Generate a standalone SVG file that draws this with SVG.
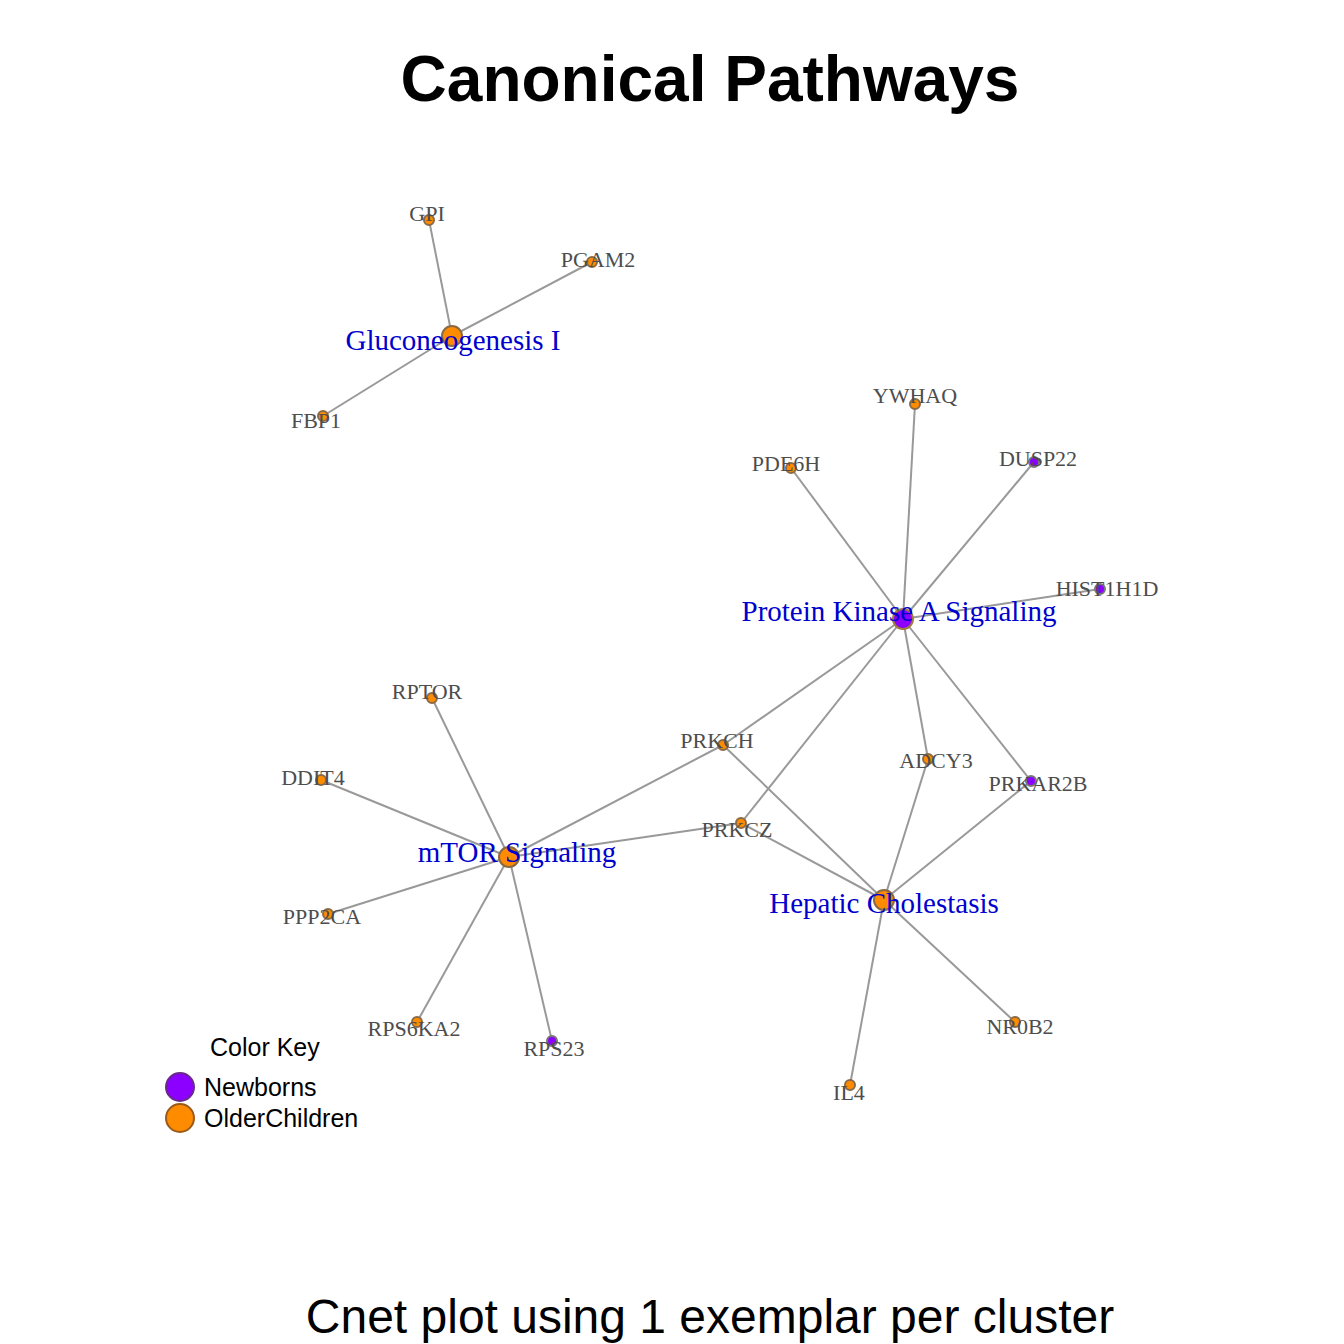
<svg xmlns="http://www.w3.org/2000/svg" width="1344" height="1344" viewBox="0 0 1344 1344">
<style>
.e{stroke:#999;stroke-width:2;fill:none}
.o{fill:#FF8C00;stroke:#8a6a45;stroke-width:2}
.p{fill:#8B00FF;stroke:#777;stroke-width:2}
.g{font-family:"Liberation Serif",serif;font-size:22px;fill:#4d4d4d;text-anchor:middle}
.pw{font-family:"Liberation Serif",serif;font-size:29px;fill:#0000CD;text-anchor:middle}
.t{font-family:"Liberation Sans",Arial,sans-serif;fill:#000}
</style>
<rect width="1344" height="1344" fill="#fff"/>
<text class="t" x="710" y="101" font-size="64" font-weight="bold" text-anchor="middle">Canonical Pathways</text>
<g id="edges">
<line class="e" x1="452" y1="336" x2="429" y2="220"/>
<line class="e" x1="452" y1="336" x2="592" y2="262"/>
<line class="e" x1="452" y1="336" x2="323" y2="416"/>
<line class="e" x1="903" y1="619" x2="915" y2="404"/>
<line class="e" x1="903" y1="619" x2="791" y2="468"/>
<line class="e" x1="903" y1="619" x2="1034" y2="462"/>
<line class="e" x1="903" y1="619" x2="1100" y2="589"/>
<line class="e" x1="903" y1="619" x2="723" y2="745"/>
<line class="e" x1="903" y1="619" x2="741" y2="823"/>
<line class="e" x1="903" y1="619" x2="928" y2="759"/>
<line class="e" x1="903" y1="619" x2="1031" y2="781"/>
<line class="e" x1="509" y1="857" x2="432" y2="698"/>
<line class="e" x1="509" y1="857" x2="321" y2="780"/>
<line class="e" x1="509" y1="857" x2="328" y2="914"/>
<line class="e" x1="509" y1="857" x2="417" y2="1022"/>
<line class="e" x1="509" y1="857" x2="552" y2="1041"/>
<line class="e" x1="509" y1="857" x2="723" y2="745"/>
<line class="e" x1="509" y1="857" x2="741" y2="823"/>
<line class="e" x1="884" y1="900" x2="723" y2="745"/>
<line class="e" x1="884" y1="900" x2="741" y2="823"/>
<line class="e" x1="884" y1="900" x2="928" y2="759"/>
<line class="e" x1="884" y1="900" x2="1031" y2="781"/>
<line class="e" x1="884" y1="900" x2="1015" y2="1022"/>
<line class="e" x1="884" y1="900" x2="850" y2="1085"/>
</g>
<g id="n-GPI"><circle class="o" cx="429" cy="220" r="5"/><text class="g" x="427" y="221">GPI</text></g>
<g id="n-PGAM2"><circle class="o" cx="592" cy="262" r="5"/><text class="g" x="598" y="267">PGAM2</text></g>
<g id="n-FBP1"><circle class="o" cx="323" cy="416" r="5"/><text class="g" x="316" y="428">FBP1</text></g>
<g id="n-YWHAQ"><circle class="o" cx="915" cy="404" r="5"/><text class="g" x="915" y="403">YWHAQ</text></g>
<g id="n-PDE6H"><circle class="o" cx="791" cy="468" r="5"/><text class="g" x="786" y="471">PDE6H</text></g>
<g id="n-DUSP22"><circle class="p" cx="1034" cy="462" r="5"/><text class="g" x="1038" y="466">DUSP22</text></g>
<g id="n-HIST1H1D"><circle class="p" cx="1100" cy="589" r="5"/><text class="g" x="1107" y="596">HIST1H1D</text></g>
<g id="n-RPTOR"><circle class="o" cx="432" cy="698" r="5"/><text class="g" x="427" y="699">RPTOR</text></g>
<g id="n-PRKCH"><circle class="o" cx="723" cy="745" r="5"/><text class="g" x="717" y="748">PRKCH</text></g>
<g id="n-ADCY3"><circle class="o" cx="928" cy="759" r="5"/><text class="g" x="936" y="768">ADCY3</text></g>
<g id="n-PRKAR2B"><circle class="p" cx="1031" cy="781" r="5"/><text class="g" x="1038" y="791">PRKAR2B</text></g>
<g id="n-DDIT4"><circle class="o" cx="321" cy="780" r="5"/><text class="g" x="313" y="785">DDIT4</text></g>
<g id="n-PRKCZ"><circle class="o" cx="741" cy="823" r="5"/><text class="g" x="737" y="837">PRKCZ</text></g>
<g id="n-PPP2CA"><circle class="o" cx="328" cy="914" r="5"/><text class="g" x="322" y="924">PPP2CA</text></g>
<g id="n-RPS6KA2"><circle class="o" cx="417" cy="1022" r="5"/><text class="g" x="414" y="1036">RPS6KA2</text></g>
<g id="n-RPS23"><circle class="p" cx="552" cy="1041" r="5"/><text class="g" x="554" y="1056">RPS23</text></g>
<g id="n-NR0B2"><circle class="o" cx="1015" cy="1022" r="5"/><text class="g" x="1020" y="1034">NR0B2</text></g>
<g id="n-IL4"><circle class="o" cx="850" cy="1085" r="5"/><text class="g" x="849" y="1100">IL4</text></g>
<g id="n-Gluconeogenesis"><circle class="o" cx="452" cy="336" r="10"/><text class="pw" x="453" y="350">Gluconeogenesis I</text></g>
<g id="n-PKA"><circle class="p" cx="903" cy="619" r="10" style="stroke:#a07a40"/><text class="pw" x="899" y="621">Protein Kinase A Signaling</text></g>
<g id="n-mTOR"><circle class="o" cx="509" cy="857" r="10"/><text class="pw" x="517" y="862">mTOR Signaling</text></g>
<g id="n-Hepatic"><circle class="o" cx="884" cy="900" r="10"/><text class="pw" x="884" y="913">Hepatic Cholestasis</text></g>
<g id="legend">
<text class="t" x="210" y="1056" font-size="25">Color Key</text>
<circle cx="180" cy="1087" r="14" fill="#8B00FF" stroke="#6a2a8a" stroke-width="2"/>
<circle cx="180" cy="1118" r="14" fill="#FF8C00" stroke="#9a5a1a" stroke-width="2"/>
<text class="t" x="204" y="1096" font-size="25">Newborns</text>
<text class="t" x="204" y="1127" font-size="25">OlderChildren</text>
</g>
<text class="t" x="710" y="1333" font-size="48" text-anchor="middle">Cnet plot using 1 exemplar per cluster</text>
</svg>
